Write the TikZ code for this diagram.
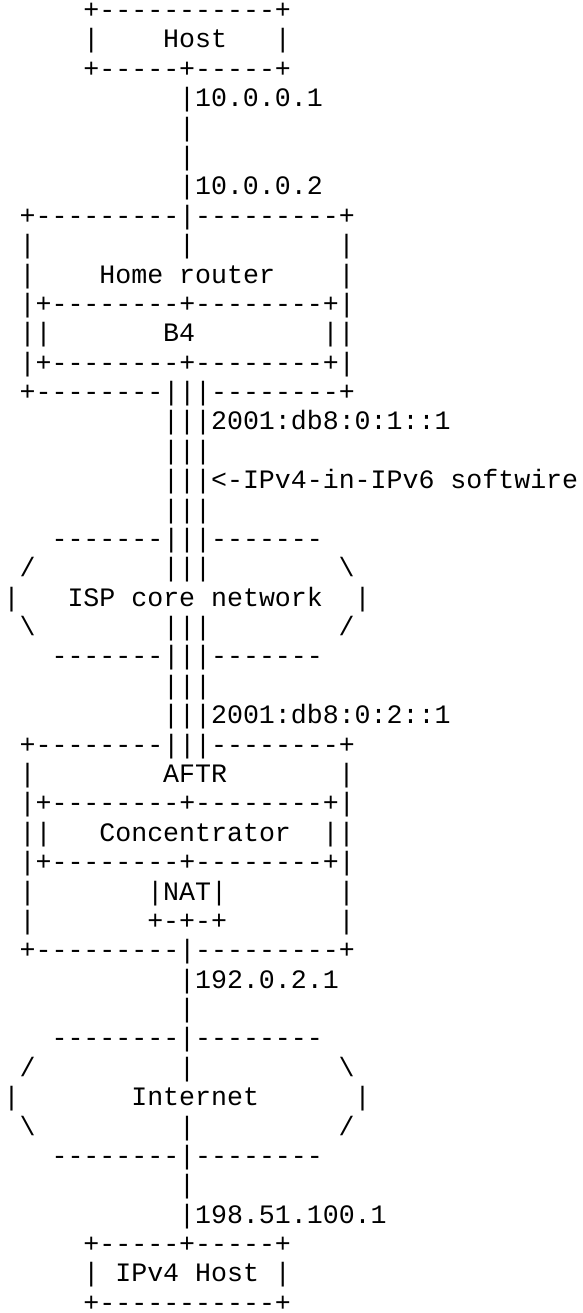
\documentclass[tikz,border=0pt]{standalone}
\usepackage{fontspec}
\setmonofont{Liberation Mono}
\tikzset{
  txt/.style={anchor=base west, inner sep=0pt, outer sep=0pt,
    text height=16pt, text depth=0pt,
    font=\ttfamily\fontsize{26.6}{29.38}\selectfont, text=black}
}
\newcommand\ascii[3]{\node[txt] (c#1r#2) at ({3.7+#1*15.95},{10.76-#2*29.38}) {#3};}
\newcommand\bs{\textbackslash}
\begin{document}
\begin{tikzpicture}[x=1pt,y=1pt]
\fill[white] (0,0) rectangle (582,-1313);
\useasboundingbox (0,0) rectangle (582,-1313);
% Host
\ascii{5}{1}{+-----------+}
\ascii{5}{2}{|}\ascii{10}{2}{Host}\ascii{17}{2}{|}
\ascii{5}{3}{+-----+-----+}
\ascii{11}{4}{|10.0.0.1}
\ascii{11}{5}{|}
\ascii{11}{6}{|}
\ascii{11}{7}{|10.0.0.2}
% Home router
\ascii{1}{8}{+---------|---------+}
\ascii{1}{9}{|}\ascii{11}{9}{|}\ascii{21}{9}{|}
\ascii{1}{10}{|}\ascii{6}{10}{Home router}\ascii{21}{10}{|}
\ascii{1}{11}{|+--------+--------+|}
\ascii{1}{12}{||}\ascii{10}{12}{B4}\ascii{20}{12}{||}
\ascii{1}{13}{|+--------+--------+|}
\ascii{1}{14}{+--------|||--------+}
\ascii{10}{15}{|||2001:db8:0:1::1}
\ascii{10}{16}{|||}
\ascii{10}{17}{|||<-IPv4-in-IPv6 softwire}
\ascii{10}{18}{|||}
% ISP core network
\ascii{3}{19}{-------|||-------}
\ascii{1}{20}{/}\ascii{10}{20}{|||}\ascii{21}{20}{\bs}
\ascii{0}{21}{|}\ascii{4}{21}{ISP core network}\ascii{22}{21}{|}
\ascii{1}{22}{\bs}\ascii{10}{22}{|||}\ascii{21}{22}{/}
\ascii{3}{23}{-------|||-------}
\ascii{10}{24}{|||}
\ascii{10}{25}{|||2001:db8:0:2::1}
% AFTR
\ascii{1}{26}{+--------|||--------+}
\ascii{1}{27}{|}\ascii{10}{27}{AFTR}\ascii{21}{27}{|}
\ascii{1}{28}{|+--------+--------+|}
\ascii{1}{29}{||}\ascii{6}{29}{Concentrator}\ascii{20}{29}{||}
\ascii{1}{30}{|+--------+--------+|}
\ascii{1}{31}{|}\ascii{9}{31}{|NAT|}\ascii{21}{31}{|}
\ascii{1}{32}{|}\ascii{9}{32}{+-+-+}\ascii{21}{32}{|}
\ascii{1}{33}{+---------|---------+}
\ascii{11}{34}{|192.0.2.1}
\ascii{11}{35}{|}
% Internet
\ascii{3}{36}{--------|--------}
\ascii{1}{37}{/}\ascii{11}{37}{|}\ascii{21}{37}{\bs}
\ascii{0}{38}{|}\ascii{8}{38}{Internet}\ascii{22}{38}{|}
\ascii{1}{39}{\bs}\ascii{11}{39}{|}\ascii{21}{39}{/}
\ascii{3}{40}{--------|--------}
\ascii{11}{41}{|}
\ascii{11}{42}{|198.51.100.1}
% IPv4 Host
\ascii{5}{43}{+-----+-----+}
\ascii{5}{44}{|}\ascii{7}{44}{IPv4 Host}\ascii{17}{44}{|}
\ascii{5}{45}{+-----------+}
\end{tikzpicture}
\end{document}
